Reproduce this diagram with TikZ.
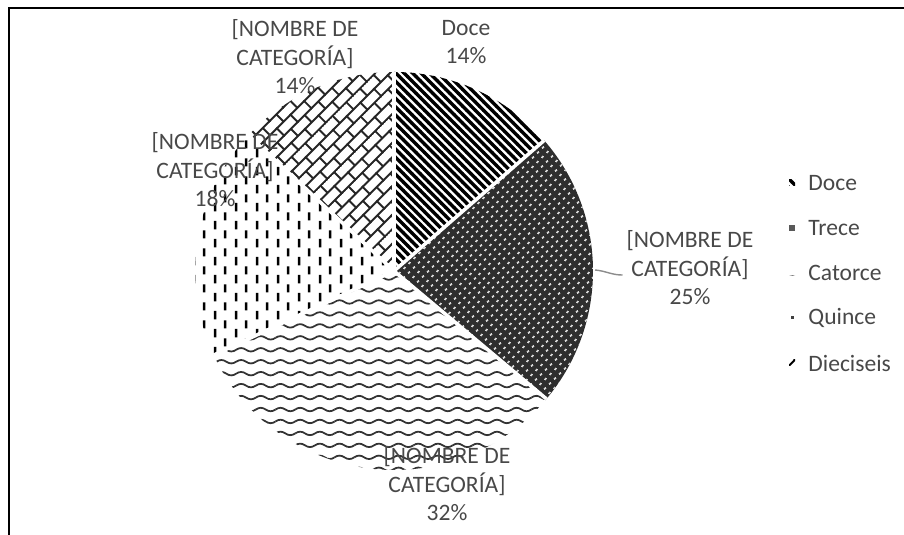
\documentclass[tikz,border=0pt]{standalone}
\usepackage{fontspec}
\setmainfont{Carlito}
\usetikzlibrary{patterns.meta,positioning}
\definecolor{etiqueta}{HTML}{484848}
\definecolor{guia}{HTML}{8C8C8C}

% rayas diagonales (Doce)
\pgfdeclarepattern{
  name=rayas, type=uncolored,
  bottom left={\pgfpoint{-0.1pt}{-0.1pt}},
  top right={\pgfpoint{1.8pt}{1.8pt}},
  tile size={\pgfpoint{1.7pt}{1.7pt}},
  tile transformation={\pgftransformrotate{-45}},
  code={
    \pgfsetlinewidth{0.95pt}
    \pgfpathmoveto{\pgfpoint{-0.1pt}{0.85pt}}
    \pgfpathlineto{\pgfpoint{1.8pt}{0.85pt}}
    \pgfusepath{stroke}
  }
}
% puntos blancos sobre fondo oscuro (Trece)
\pgfdeclarepattern{
  name=puntos, type=uncolored,
  bottom left={\pgfpoint{0pt}{0pt}},
  top right={\pgfpoint{1.8pt}{1.8pt}},
  tile size={\pgfpoint{1.8pt}{1.8pt}},
  tile transformation={\pgftransformrotate{45}},
  code={
    \pgfpathcircle{\pgfpoint{0.9pt}{0.9pt}}{0.4pt}
    \pgfusepath{fill}
  }
}
% ondas (Catorce)
\pgfdeclarepattern{
  name=ondas, type=uncolored,
  bottom left={\pgfpoint{-0.3pt}{-0.1pt}},
  top right={\pgfpoint{5.9pt}{3.5pt}},
  tile size={\pgfpoint{5.6pt}{3.4pt}},
  code={
    \pgfsetlinewidth{0.5pt}
    \pgfpathmoveto{\pgfpoint{0pt}{1.7pt}}
    \pgfpathcurveto{\pgfpoint{0.93pt}{2.35pt}}{\pgfpoint{1.87pt}{2.35pt}}{\pgfpoint{2.8pt}{1.7pt}}
    \pgfpathcurveto{\pgfpoint{3.73pt}{1.05pt}}{\pgfpoint{4.67pt}{1.05pt}}{\pgfpoint{5.6pt}{1.7pt}}
    \pgfusepath{stroke}
  }
}
% guiones verticales (Quince)
\pgfdeclarepattern{
  name=guiones, type=uncolored,
  bottom left={\pgfpoint{0pt}{0pt}},
  top right={\pgfpoint{6pt}{5.1pt}},
  tile size={\pgfpoint{6pt}{5.1pt}},
  code={
    \pgfsetlinewidth{0.75pt}
    \pgfpathmoveto{\pgfpoint{1.5pt}{0.2pt}}
    \pgfpathlineto{\pgfpoint{1.5pt}{2.6pt}}
    \pgfpathmoveto{\pgfpoint{4.5pt}{2.75pt}}
    \pgfpathlineto{\pgfpoint{4.5pt}{5.0pt}}
    \pgfusepath{stroke}
  }
}
% ladrillos diagonales (Dieciseis)
\pgfdeclarepattern{
  name=ladrillos, type=uncolored,
  bottom left={\pgfpoint{-0.3pt}{-0.3pt}},
  top right={\pgfpoint{5.8pt}{6.1pt}},
  tile size={\pgfpoint{5.5pt}{5.8pt}},
  tile transformation={\pgftransformrotate{45}},
  code={
    \pgfsetlinewidth{0.55pt}
    \pgfpathmoveto{\pgfpoint{-0.3pt}{0pt}}
    \pgfpathlineto{\pgfpoint{5.8pt}{0pt}}
    \pgfpathmoveto{\pgfpoint{-0.3pt}{2.9pt}}
    \pgfpathlineto{\pgfpoint{5.8pt}{2.9pt}}
    \pgfpathmoveto{\pgfpoint{0pt}{0pt}}
    \pgfpathlineto{\pgfpoint{0pt}{2.9pt}}
    \pgfpathmoveto{\pgfpoint{2.75pt}{2.9pt}}
    \pgfpathlineto{\pgfpoint{2.75pt}{5.8pt}}
    \pgfusepath{stroke}
  }
}

\begin{document}
\begin{tikzpicture}[
    etq/.style={align=center,text=etiqueta,inner sep=0pt,
      font=\fontsize{6.7}{8.1}\selectfont},
    marcador/.style={rectangle,inner sep=0pt,minimum size=0.06cm},
    leyenda/.style={inner sep=0pt,anchor=west,text=etiqueta,
      font=\fontsize{6.7}{8.1}\selectfont},
    borde/.style={draw=white,line width=1pt}
  ]
	\useasboundingbox (0,0) rectangle (9.04,5.35);
	\draw[line width=0.8pt] (0.09,0) -- (0.09,5.27) -- (9.04,5.27);

	\coordinate (c) at (3.94,2.64);
	% porciones
	\path[pattern=rayas] (c) -- ++(90:1.99) arc[start angle=90,end angle=41,radius=1.99] -- cycle;
	\fill[black!82] (c) -- ++(41:1.99) arc[start angle=41,end angle=-40,radius=1.99] -- cycle;
	\path[pattern=puntos,pattern color=white] (c) -- ++(41:1.99) arc[start angle=41,end angle=-40,radius=1.99] -- cycle;
	\path[pattern=ondas,pattern color=black!80] (c) -- ++(-40:1.99) arc[start angle=-40,end angle=-155,radius=1.99] -- cycle;
	\path[pattern=guiones] (c) -- ++(-155:1.99) arc[start angle=-155,end angle=-223,radius=1.99] -- cycle;
	\path[pattern=ladrillos,pattern color=black!85] (c) -- ++(137:1.99) arc[start angle=137,end angle=90,radius=1.99] -- cycle;
	\draw[borde] (c) -- ++(90:1.99);
	\draw[borde] (c) -- ++(41:1.99);
	\draw[borde] (c) -- ++(-40:1.99);
	\draw[borde] (c) -- ++(-155:1.99);
	\draw[borde] (c) -- ++(137:1.99);

	% etiquetas
	\node[etq] (doceLbl) at (4.66,4.93) {Doce\\14\%};
	\node[etq] (treceLbl) at (6.90,2.67) {[NOMBRE DE\\CATEGORÍA]\\25\%};
	\node[etq] (catorceLbl) at (4.47,0.51) {[NOMBRE DE\\CATEGORÍA]\\32\%};
	\node[etq] (quinceLbl) at (2.15,3.65) {[NOMBRE DE\\CATEGORÍA]\\18\%};
	\node[etq] (dieciseisLbl) at (2.95,4.78) {[NOMBRE DE\\CATEGORÍA]\\14\%};
	\coordinate (bordeTrece) at (5.95,2.65);
	\draw[guia,line width=0.4pt] (bordeTrece) to[out=-5,in=180] ([xshift=-1pt,yshift=-2pt]treceLbl.west);

	% leyenda
	\node[marcador,pattern=rayas] (mDoce) at (7.92,3.52) {};
	\node[marcador,fill=black!65] (mTrece) at (7.92,3.07) {};
	\node[marcador,pattern=ondas] (mCatorce) at (7.92,2.62) {};
	\node[marcador,minimum size=0.03cm,fill=black!75] (mQuince) at (7.92,2.17) {};
	\node[marcador,pattern=ladrillos] (mDieciseis) at (7.92,1.72) {};
	\node[leyenda,right=0.12cm of mDoce] (lDoce) {Doce};
	\node[leyenda,right=0.12cm of mTrece] (lTrece) {Trece};
	\node[leyenda,right=0.12cm of mCatorce] (lCatorce) {Catorce};
	\node[leyenda,right=0.135cm of mQuince] (lQuince) {Quince};
	\node[leyenda,right=0.12cm of mDieciseis] (lDieciseis) {Dieciseis};
\end{tikzpicture}
\end{document}
